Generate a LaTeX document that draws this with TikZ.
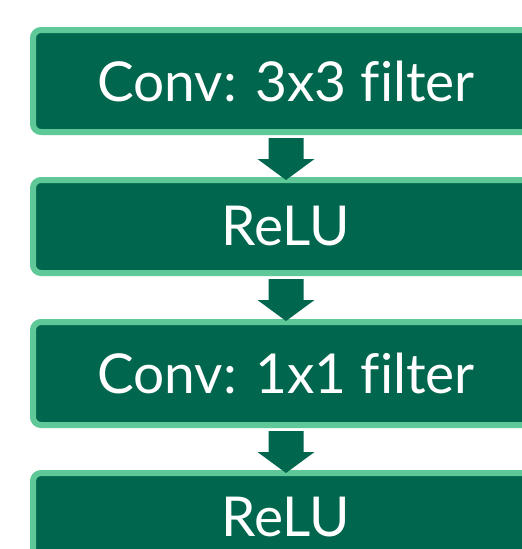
\documentclass[tikz,border=0pt]{standalone}
\usepackage{fontspec}
\setmainfont{Lato}[Ligatures=NoCommon]
\usetikzlibrary{calc}
\definecolor{stagefill}{RGB}{0,102,77}
\definecolor{stageedge}{RGB}{94,200,152}
\tikzset{
  stagebox/.style={draw=stageedge, fill=stagefill, line width=6pt,
    rounded corners=8pt, minimum width=506pt, inner sep=0pt,
    text=white, font=\fontsize{55}{64}\selectfont},
  flowarrow/.style={fill=stagefill, draw=none}
}
% block arrow hanging below node #1
\newcommand{\downblock}[1]{%
  \fill[flowarrow] ($(#1.south)+(-17.5,3)$) -- ($(#1.south)+(17.5,3)$)
    -- ($(#1.south)+(17.5,24)$) -- ($(#1.south)+(28.5,24)$)
    -- ($(#1.south)+(0,45)$) -- ($(#1.south)+(-28.5,24)$)
    -- ($(#1.south)+(-17.5,24)$) -- cycle;}
\begin{document}
\begin{tikzpicture}[x=1pt,y=-1pt]
  \clip (0,0) rectangle (522,549);
  \fill[white] (0,0) rectangle (522,549);
  \node[stagebox, minimum height=102pt] (conv3) at (286,81) {Conv: 3x3 filter};
  \node[stagebox, minimum height=93pt] (relu1) at (286,226.5) {ReLU};
  \node[stagebox, minimum height=103pt] (conv1) at (286,373.5) {Conv: 1x1 filter};
  \node[stagebox, minimum height=88pt] (relu2) at (286,517) {ReLU};
  \downblock{conv3}
  \downblock{relu1}
  \downblock{conv1}
\end{tikzpicture}
\end{document}
